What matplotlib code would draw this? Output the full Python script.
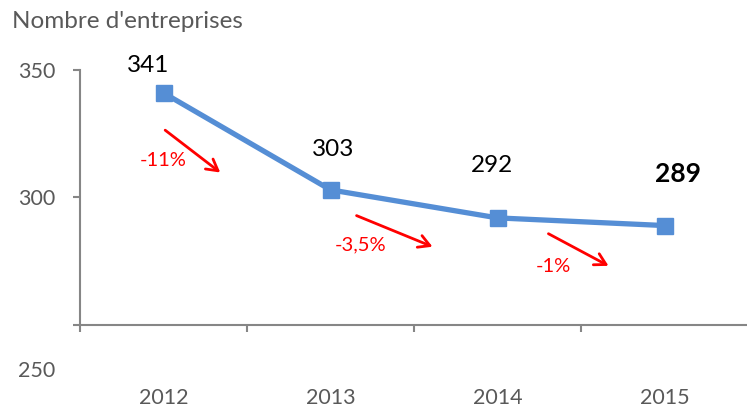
import matplotlib
matplotlib.use('Agg')
import matplotlib.pyplot as plt
from matplotlib.transforms import ScaledTranslation

# ── Données ───────────────────────────────────────────────────────────────────
annees = ['2012', '2013', '2014', '2015']
entreprises = [341, 303, 292, 289]
variations = ['-11%', '-3,5%', '-1%']

# ── Style ─────────────────────────────────────────────────────────────────────
plt.rcParams['font.family'] = ['Lato', 'DejaVu Sans']
BLEU = '#558ed5'
GRIS = '#595959'
AXE = '#868686'
ROUGE = '#ff0000'

fig = plt.figure(figsize=(7.47, 4.09), dpi=100)
ax = fig.add_axes([80 / 747, 84 / 409, 668 / 747, 255 / 409])

x = list(range(len(annees)))
ax.plot(x, entreprises, color=BLEU, linewidth=3.8, marker='s',
        markersize=11, clip_on=False, zorder=3)

ax.set_xlim(-0.5, len(annees) - 0.5)
ax.set_ylim(250, 350)

# axes façon Excel
for s in ['top', 'right']:
    ax.spines[s].set_visible(False)
for s in ['left', 'bottom']:
    ax.spines[s].set_color(AXE)
    ax.spines[s].set_linewidth(1.5)

ax.set_yticks([250, 300, 350])
ax.tick_params(axis='y', length=5, width=1.5, color=AXE, labelcolor=GRIS,
               labelsize=15.5, pad=13)
# le libellé 250 est décalé vers le bas comme dans l'original
lab250 = ax.get_yticklabels()[0]
lab250.set_transform(lab250.get_transform()
                     + ScaledTranslation(0, -32 / 72, fig.dpi_scale_trans))

ax.set_xticks([i - 0.5 for i in x])
ax.set_xticklabels([])
ax.set_xticks(x, minor=True)
ax.set_xticklabels(annees, minor=True)
ax.tick_params(axis='x', which='major', length=5, width=1.5, color=AXE)
ax.tick_params(axis='x', which='minor', length=0, labelcolor=GRIS,
               labelsize=15.5, pad=45)

# étiquettes de valeurs
decalages = [(-11, 20), (2, 29), (-4, 38), (10, 37)]
for i, (v, d) in enumerate(zip(entreprises, decalages)):
    dernier = i == len(entreprises) - 1
    ax.annotate(str(v), xy=(i, v), xytext=d, textcoords='offset points',
                ha='center', va='center', fontsize=19 if dernier else 17.5,
                fontweight='bold' if dernier else 'normal', color='black')

# flèches de variation
fleches = [((0.01, 326.4), (0.34, 309.8)),
           ((1.156, 292.9), (1.611, 280.7)),
           ((2.305, 285.8), (2.665, 273.2))]
pos_texte = [(0.0, 314.6), (1.18, 281.5), (2.335, 272.8)]
for (debut, fin), txt, pt in zip(fleches, variations, pos_texte):
    ax.annotate('', xy=fin, xytext=debut,
                arrowprops=dict(arrowstyle='->,head_length=0.8,head_width=0.45',
                                color=ROUGE, lw=2.0, shrinkA=0, shrinkB=0))
    ax.text(pt[0], pt[1], txt, color=ROUGE, fontsize=14.5,
            ha='center', va='center')

fig.text(12 / 747, 1 - 22 / 409, "Nombre d'entreprises", color=GRIS,
         fontsize=17.5, ha='left', va='center')

fig.savefig('out.png', dpi=100)
